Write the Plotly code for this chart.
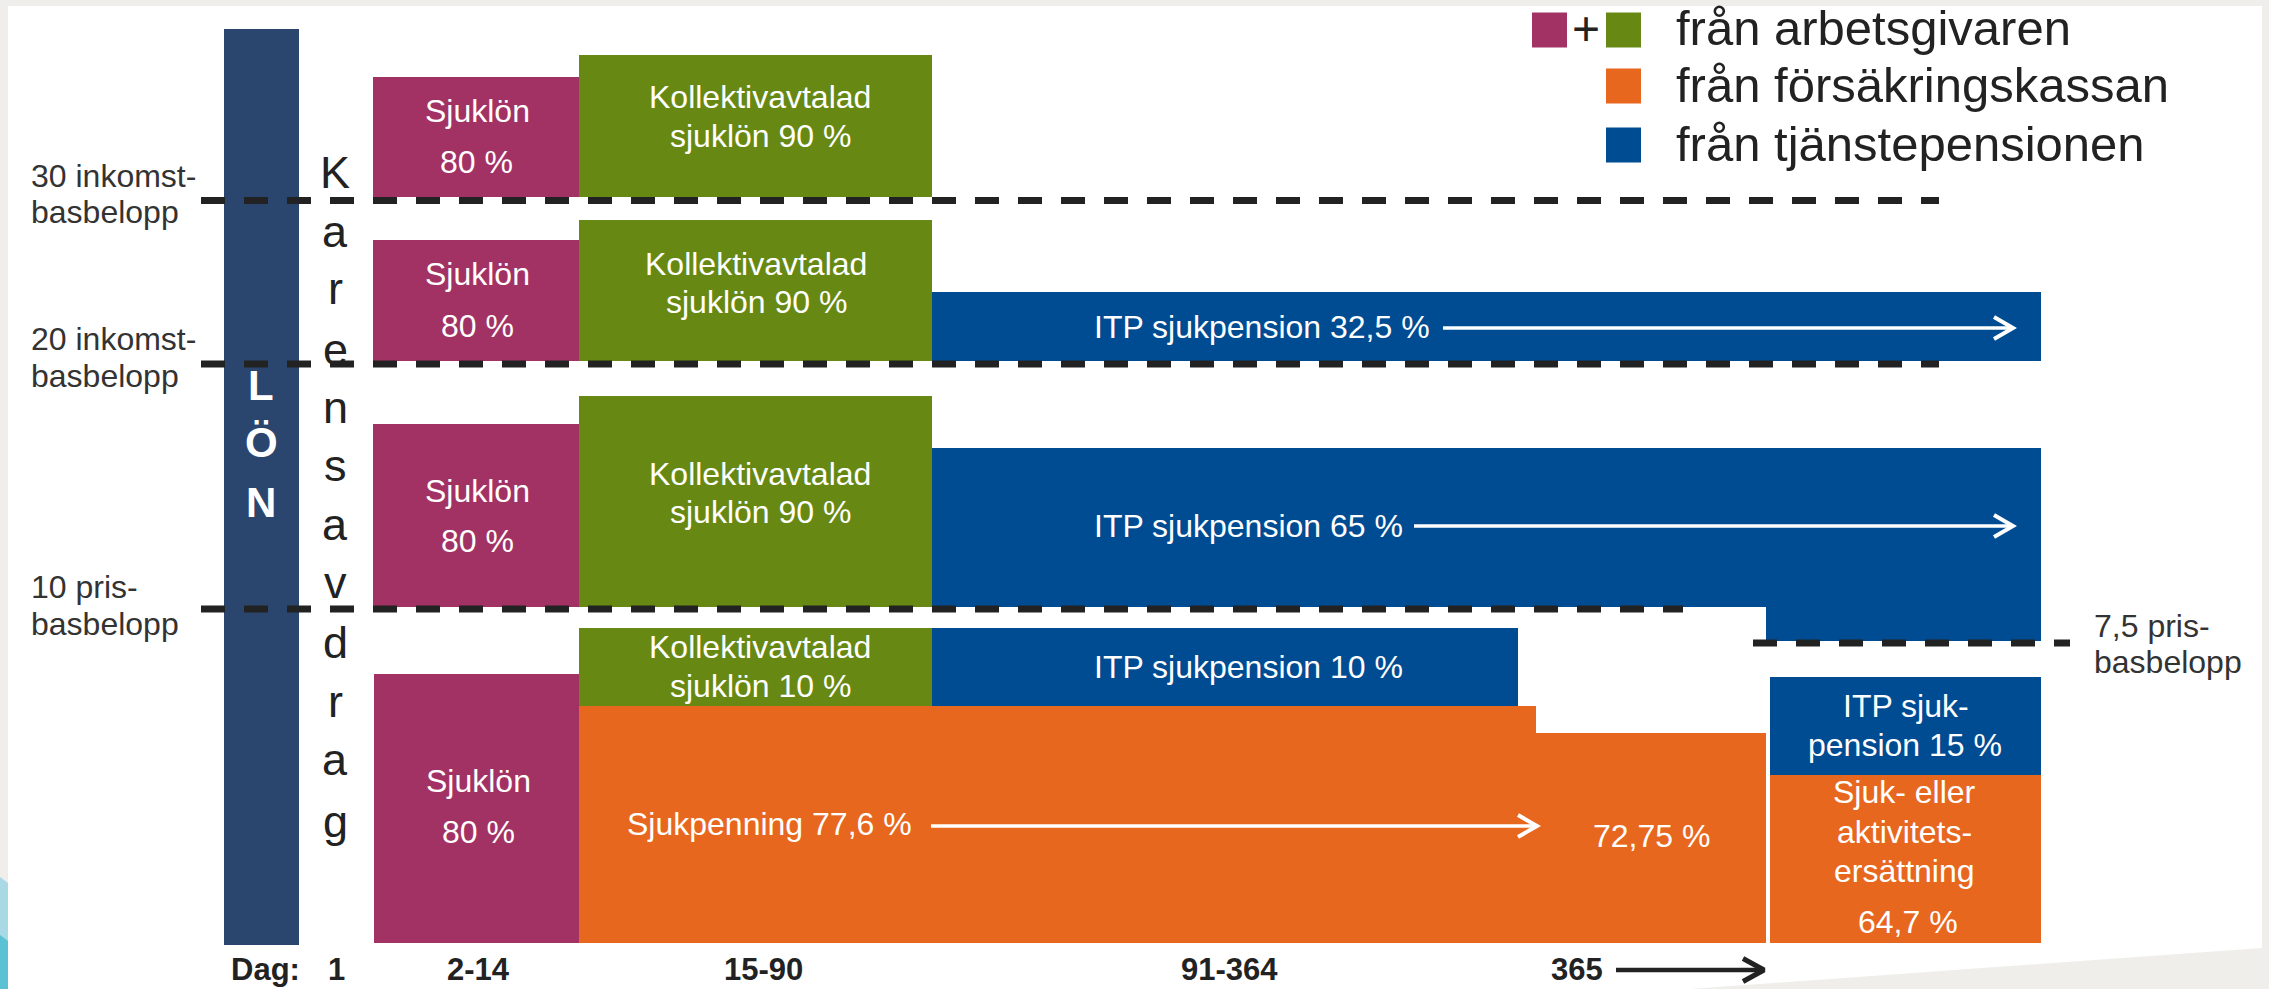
import plotly.graph_objects as go

W, H = 2269, 989

# ---------------- colours ----------------
MAGENTA = "#A23264"
GREEN = "#678913"
BLUE = "#004C93"
ORANGE = "#E8671F"
NAVY = "#2A466E"
DARK = "#222222"
LABEL = "#333333"
FRAME = "#EFEEEA"
FONT = "Liberation Sans, Arial, sans-serif"

# ---------------- data ----------------
day_labels = ["Dag:", "1", "2-14", "15-90", "91-364", "365"]
day_label_x = [265, 336, 478, 763, 1229, 1577]

threshold_names = ["30 inkomstbasbelopp", "20 inkomstbasbelopp", "10 prisbasbelopp", "7,5 prisbasbelopp"]
threshold_text1 = ["30 inkomst-", "20 inkomst-", "10 pris-", "7,5 pris-"]
threshold_text2 = ["basbelopp", "basbelopp", "basbelopp", "basbelopp"]
threshold_level = [200.5, 364, 609, 643]
threshold_from = [201, 201, 201, 1753]
threshold_to = [1939, 1939, 1683, 2070]

legend_labels = ["från arbetsgivaren", "från försäkringskassan", "från tjänstepensionen"]

# benefit blocks: source, period start/end (diagram x), top/bottom (diagram level)
block_source = ["lon",
                "sjuklon", "kollektiv",
                "sjuklon", "kollektiv", "itp",
                "sjuklon", "kollektiv", "itp", "itp",
                "kollektiv", "itp", "sjuklon", "fk", "fk",
                "itp", "fk"]
block_start = [224,
               373, 579,
               373, 579, 932,
               373, 579, 932, 1766,
               579, 932, 374, 579, 1536,
               1770, 1770]
block_end = [299,
             579, 932,
             579, 932, 2041,
             579, 932, 1766, 2041,
             932, 1518, 579, 1536, 1766,
             2041, 2041]
block_top = [29,
             77, 55,
             240, 220, 292,
             424, 396, 448, 448,
             628, 628, 674, 706, 733,
             677, 775]
block_bottom = [945,
                197, 197,
                361, 361, 361,
                607, 607, 607, 641,
                706, 706, 943, 943, 943,
                775, 943]

source_color = {"lon": NAVY, "sjuklon": MAGENTA, "kollektiv": GREEN, "fk": ORANGE, "itp": BLUE}

# white texts inside blocks: text, x, baseline, anchor
inner_text = ["Sjuklön", "80 %", "Kollektivavtalad", "sjuklön 90 %",
              "Sjuklön", "80 %", "Kollektivavtalad", "sjuklön 90 %", "ITP sjukpension 32,5 %",
              "Sjuklön", "80 %", "Kollektivavtalad", "sjuklön 90 %", "ITP sjukpension 65 %",
              "Kollektivavtalad", "sjuklön 10 %", "ITP sjukpension 10 %",
              "Sjuklön", "80 %", "Sjukpenning 77,6 %", "72,75 %",
              "ITP sjuk-", "pension 15 %", "Sjuk- eller", "aktivitets-", "ersättning", "64,7 %"]
inner_x = [477, 476, 760, 760,
           477, 477, 756, 756, 1092,
           477, 477, 760, 760, 1092,
           760, 760, 1092,
           478, 478, 625, 1651,
           1906, 1905, 1904, 1904, 1904, 1908]
inner_base = [122, 173, 108, 147,
              285, 337, 275, 313, 338,
              502, 552, 485, 523, 537,
              658, 697, 678,
              792, 843, 835, 847,
              717, 756, 803, 843, 882, 933]
inner_anchor = ["center"] * 8 + ["left"] + ["center"] * 4 + ["left"] + ["center"] * 2 + ["left"] + \
               ["center"] * 2 + ["left"] + ["center"] * 7

karens_letters = list("Karensavdrag")
karens_base = [188, 247, 304, 365, 423, 481, 540, 598, 658, 717, 775, 837]
lon_letters = ["L", "Ö", "N"]
lon_base = [400, 457, 517]

# arrows: start, end, level, colour
arrow_start = [931, 1443, 1414, 1616]
arrow_end = [1537, 2013, 2013, 1764]
arrow_level = [826, 328, 526, 970]
arrow_kind = ["white", "white", "white", "dark"]

# ---------------- figure ----------------
fig = go.Figure()

# blocks as bars, one trace per source
for src, col in source_color.items():
    idx = [i for i, s in enumerate(block_source) if s == src]
    fig.add_trace(go.Bar(
        x=[(block_start[i] + block_end[i]) / 2 for i in idx],
        width=[block_end[i] - block_start[i] for i in idx],
        base=[block_top[i] for i in idx],
        y=[block_bottom[i] - block_top[i] for i in idx],
        marker=dict(color=col, line=dict(width=0)),
        hoverinfo="skip", showlegend=False,
    ))

# dashed threshold lines
for i in range(len(threshold_level)):
    fig.add_trace(go.Scatter(
        x=[threshold_from[i], threshold_to[i]],
        y=[threshold_level[i], threshold_level[i]],
        mode="lines", line=dict(color=DARK, width=7, dash="24px,19px"),
        hoverinfo="skip", showlegend=False,
    ))

# arrows
for i in range(len(arrow_start)):
    col = "white" if arrow_kind[i] == "white" else DARK
    lw = 3.5 if arrow_kind[i] == "white" else 4.5
    hl = 19 if arrow_kind[i] == "white" else 21
    hh = 11 if arrow_kind[i] == "white" else 11.5
    x1 = arrow_end[i]
    y = arrow_level[i]
    fig.add_trace(go.Scatter(
        x=[arrow_start[i], x1 - 2],
        y=[y, y], mode="lines", line=dict(color=col, width=lw),
        hoverinfo="skip", showlegend=False,
    ))
    fig.add_trace(go.Scatter(
        x=[x1 - hl, x1, x1 - hl], y=[y - hh, y, y + hh],
        mode="lines", line=dict(color=col, width=lw + 0.5),
        hoverinfo="skip", showlegend=False,
    ))

# legend swatches
fig.add_trace(go.Scatter(
    x=[1549.5, 1623.5, 1623.5, 1623.5], y=[30, 30, 86, 145],
    mode="markers",
    marker=dict(symbol="square", size=35, color=[MAGENTA, GREEN, ORANGE, BLUE], line=dict(width=0)),
    hoverinfo="skip", showlegend=False,
))

ann = []


def txt(t, x, base, size, color, anchor="center", bold=False):
    s = "<b>%s</b>" % t if bold else t
    ann.append(dict(text=s, x=x, y=base - 0.35 * size, xref="x", yref="y",
                    xanchor=anchor, yanchor="middle", showarrow=False,
                    font=dict(family=FONT, size=size, color=color)))


for t, x, b, a in zip(inner_text, inner_x, inner_base, inner_anchor):
    txt(t, x, b, 32, "white", a)

for t, b in zip(karens_letters, karens_base):
    txt(t, 335, b, 45, DARK)

for t, b in zip(lon_letters, lon_base):
    txt(t, 261, b, 42, "white", bold=True)

for t, x in zip(day_labels, day_label_x):
    txt(t, x, 980, 31, DARK, bold=True)

label_x = [29, 29, 29, 2092]
label_b1 = [187, 350, 598, 637]
label_b2 = [223, 387, 635, 673]
for i in range(len(threshold_text1)):
    txt(threshold_text1[i], label_x[i], label_b1[i], 32, LABEL, "left")
    txt(threshold_text2[i], label_x[i], label_b2[i], 32, LABEL, "left")

for t, b in zip(legend_labels, [45, 102, 161]):
    txt(t, 1674, b, 49, DARK, "left")
ann.append(dict(text="+", x=1586, y=28, xref="x", yref="y", xanchor="center", yanchor="middle",
                showarrow=False, font=dict(family=FONT, size=48, color=DARK)))

shapes = [
    dict(type="path", layer="below", xref="x", yref="y",
         path="M 8 6 L 2262 6 L 2262 948 L 1690 989 L 8 989 Z",
         fillcolor="white", line=dict(width=0)),
    dict(type="path", layer="below", xref="x", yref="y",
         path="M 0 877 L 8 883 L 8 989 L 0 989 Z", fillcolor="#A8D9E5", line=dict(width=0)),
    dict(type="path", layer="below", xref="x", yref="y",
         path="M 0 935 L 8 941 L 8 989 L 0 989 Z", fillcolor="#5BC2D4", line=dict(width=0)),
]

fig.update_layout(
    width=W, height=H, autosize=False,
    margin=dict(l=0, r=0, t=0, b=0, pad=0),
    paper_bgcolor=FRAME, plot_bgcolor=FRAME,
    barmode="overlay", bargap=0,
    showlegend=False, hovermode=False,
    xaxis=dict(range=[0, W], visible=False, fixedrange=True),
    yaxis=dict(range=[H, 0], visible=False, fixedrange=True),
    annotations=ann, shapes=shapes,
)

fig.write_html("out.html", config={"displayModeBar": False},
               post_script="document.body.style.margin='0';document.body.style.overflow='hidden';")
